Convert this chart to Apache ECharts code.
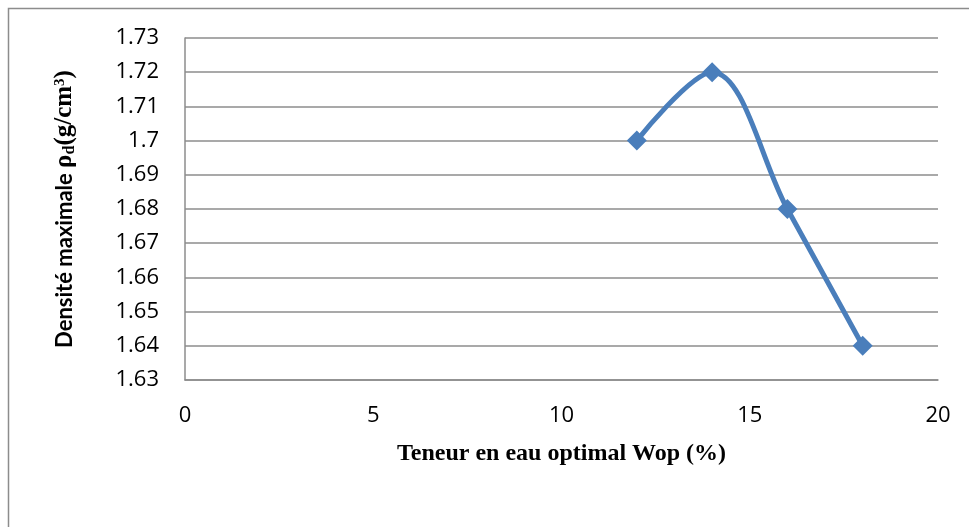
<!DOCTYPE html>
<html>
<head>
<meta charset="utf-8">
<script src="https://cdn.jsdelivr.net/npm/echarts@6/dist/echarts.min.js"></script>
<style>
html,body{margin:0;padding:0;background:#fff;}
#c{width:969px;height:527px;}
</style>
</head>
<body>
<div id="c"></div>
<script>
const waterContent = [12, 14, 16, 18];
const density = [1.70, 1.72, 1.68, 1.64];
const xTitle = 'Teneur en eau optimal Wop (%)';
const yTitlePlain = 'Densité maximale ';

const chart = echarts.init(document.getElementById('c'), null, {renderer: 'canvas'});
const data = waterContent.map((x, i) => [x, density[i]]);

chart.setOption({
  animation: false,
  backgroundColor: '#ffffff',
  graphic: [{
    type: 'rect',
    shape: {x: 8.5, y: 8.5, width: 1000, height: 600},
    style: {fill: 'none', stroke: '#8c8c8c', lineWidth: 1.5},
    silent: true
  }],
  grid: {left: 185, right: 31, top: 38, bottom: 147},
  xAxis: {
    type: 'value',
    min: 0, max: 20, interval: 5,
    name: xTitle,
    nameLocation: 'middle',
    nameGap: 62,
    nameTextStyle: {fontFamily: 'Liberation Serif', fontWeight: 'bold', fontSize: 24, color: '#000'},
    axisLine: {show: true, lineStyle: {color: '#8c8c8c', width: 1.5}},
    axisTick: {show: false},
    splitLine: {show: false},
    axisLabel: {margin: 25, fontFamily: 'Open Sans', fontSize: 22, color: '#000'}
  },
  yAxis: {
    type: 'value',
    min: 1.63, max: 1.73, interval: 0.01,
    name: '{a|' + yTitlePlain + '}{b|ρ}{s|d}{b|(g/cm}{p|3}{b|)}',
    nameLocation: 'middle',
    nameGap: 107,
    nameRotate: 90,
    nameTextStyle: {
      rich: {
        a: {fontFamily: 'Lato', fontWeight: 'bold', fontSize: 22, color: '#000'},
        b: {fontFamily: 'Liberation Serif', fontWeight: 'bold', fontSize: 25, color: '#000'},
        s: {fontFamily: 'Liberation Serif', fontWeight: 'bold', fontSize: 16, color: '#000', padding: [10, 0, 0, 0]},
        p: {fontFamily: 'Liberation Serif', fontWeight: 'bold', fontSize: 15, color: '#000', padding: [0, 0, 10, 0]}
      }
    },
    axisLine: {show: true, lineStyle: {color: '#8c8c8c', width: 1.5}},
    axisTick: {show: false},
    splitLine: {show: true, lineStyle: {color: '#8c8c8c', width: 1.5}},
    axisLabel: {
      margin: 26, fontFamily: 'Open Sans', fontSize: 22, color: '#000',
      formatter: v => String(parseFloat(v.toFixed(2)))
    }
  },
  series: [{
    type: 'line',
    data: data,
    smooth: 0.35,
    symbol: 'diamond',
    symbolSize: 20,
    lineStyle: {color: '#4a7ebb', width: 5},
    itemStyle: {color: '#4a7ebb'}
  }]
});
</script>
</body>
</html>
